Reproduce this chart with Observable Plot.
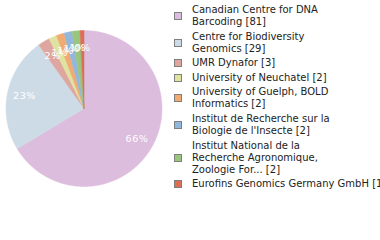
<!DOCTYPE html>
<html><head><meta charset="utf-8">
<script src="https://cdn.jsdelivr.net/npm/d3@7"></script>
<script src="https://cdn.jsdelivr.net/npm/@observablehq/plot@0.6"></script>
<style>
body{margin:0;background:#fff;font-family:"DejaVu Sans",sans-serif;}
#wrap{position:relative;width:380px;height:240px;overflow:hidden;}
#wrap svg{position:absolute;left:0;top:0;}
#wrap svg text{letter-spacing:0.6px;}
#legend{position:absolute;left:174px;top:4px;display:flex;flex-direction:column;gap:2.6px;font-size:10px;line-height:12px;white-space:pre;color:#222;}
.item{display:flex;align-items:center;}
.sw{width:6px;height:6px;border:1px solid #7f7f7f;margin-right:10px;flex:none;}
</style></head><body><div id="wrap"><div id="legend"></div></div>
<script>
const labels = [
  "Canadian Centre for DNA\nBarcoding",
  "Centre for Biodiversity\nGenomics",
  "UMR Dynafor",
  "University of Neuchatel",
  "University of Guelph, BOLD\nInformatics",
  "Institut de Recherche sur la\nBiologie de l'Insecte",
  "Institut National de la\nRecherche Agronomique,\nZoologie For...",
  "Eurofins Genomics Germany GmbH"
];
const counts = [81, 29, 3, 2, 2, 2, 2, 1];
const colors = ["#dcbddd", "#cddbe6", "#dea69e", "#dfe3a0", "#f1ab72", "#93b6dd", "#99c57e", "#dc6e55"];

const total = d3.sum(counts);
const pie = d3.pie().sort(null).value(d => d)(counts);
const toXY = (a, r) => [r * Math.sin(a), r * Math.cos(a)];

const marks = [];
pie.forEach((p, i) => {
  const pts = [[0, 0]];
  const n = Math.max(2, Math.ceil((p.endAngle - p.startAngle) / 0.01));
  for (let k = 0; k <= n; k++) {
    const a = p.startAngle + (p.endAngle - p.startAngle) * k / n;
    pts.push(toXY(a, 1));
  }
  pts.push([0, 0]);
  marks.push(Plot.line(pts, {x: d => d[0], y: d => d[1], fill: colors[i], stroke: colors[i], strokeWidth: 0.5, curve: "linear-closed"}));
});
const lab = pie.map((p, i) => {
  const [x, y] = toXY((p.startAngle + p.endAngle) / 2, 0.78);
  return {x, y, t: Math.floor(counts[i] / total * 100) + "%"};
});
marks.push(Plot.text(lab, {x: "x", y: "y", text: "t", fill: "white", fontSize: 9.5}));

const chart = Plot.plot({
  width: 380, height: 240, margin: 0,
  x: {domain: [-1, 1], range: [5.5, 161.5], axis: null},
  y: {domain: [-1, 1], range: [186, 30], axis: null},
  style: {fontFamily: "DejaVu Sans", background: "transparent"},
  marks
});
document.getElementById("wrap").prepend(chart);

const legend = d3.select("#legend");
labels.forEach((l, i) => {
  const it = legend.append("div").attr("class", "item");
  it.append("div").attr("class", "sw").style("background", colors[i]);
  it.append("div").text(l + " [" + counts[i] + "]");
});
</script></body></html>
